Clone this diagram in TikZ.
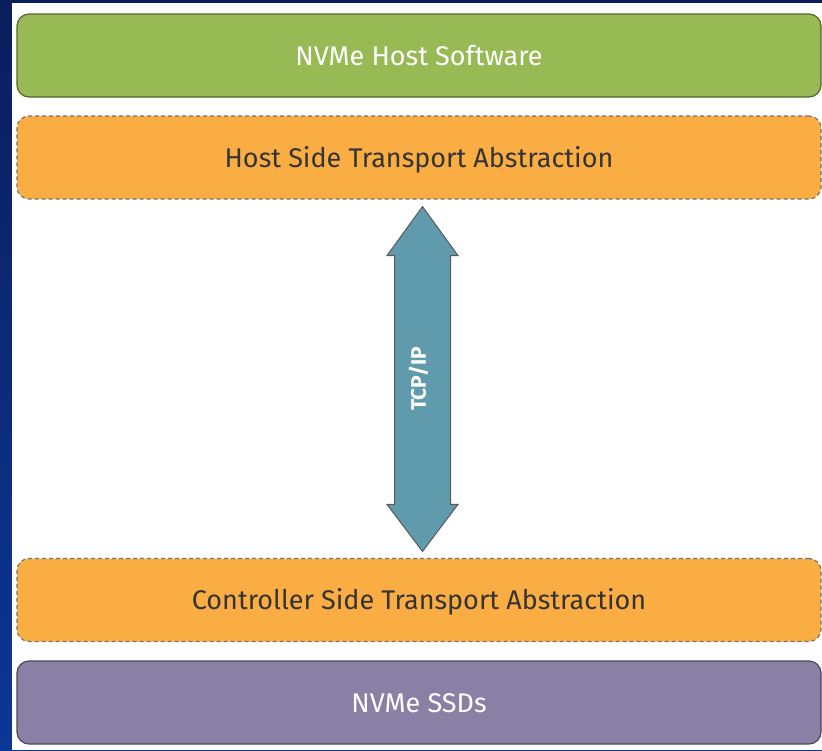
\documentclass[tikz,border=0pt]{standalone}
\usepackage{fontspec}
\setmainfont{Fira Sans}
\usetikzlibrary{calc}

\definecolor{slidenavy}{HTML}{0B1E5C}
\definecolor{slideblue}{HTML}{0B3796}
\definecolor{hostgreen}{HTML}{97BA55}
\definecolor{transorange}{HTML}{FAAD43}
\definecolor{ssdpurple}{HTML}{8A80A6}
\definecolor{tcpteal}{HTML}{5F9AAD}
\definecolor{labeldark}{HTML}{343434}

\tikzset{
  layer/.style={rounded corners=12pt, minimum width=804pt, minimum height=83pt,
    inner sep=0pt, text height=19pt, text depth=0pt, line width=1.2pt,
    font=\fontsize{27}{32}\selectfont},
  solidlayer/.style={layer, fill=#1, draw=#1!55!black, text=white},
  dashlayer/.style={layer, fill=transorange, draw=black!55,
    dash pattern=on 4pt off 3pt, text=labeldark},
  tcplink/.style={draw=black!65, fill=tcpteal, line width=1pt, line join=miter},
  tcplabel/.style={rotate=90, text=white, font=\bfseries\fontsize{21}{24}\selectfont}
}

\begin{document}
\begin{tikzpicture}[x=1pt, y=-1pt]
% Slide frame
    \fill[top color=slidenavy, bottom color=slideblue] (0,0) rectangle (822,750);
    \fill[white] (12,3) rectangle (822,750);
    \useasboundingbox (0,0) rectangle (822,750);
% Stack layers
    \node[solidlayer=hostgreen] (host) at (419,55.5) {NVMe Host Software};
    \node[dashlayer] (hostside) at (419,157.5) {Host Side Transport Abstraction};
    \node[dashlayer] (ctrlside) at (419,600) {Controller Side Transport Abstraction};
    \node[solidlayer=ssdpurple] (ssds) at (419,702.5) {NVMe SSDs};
% Fabric link between the two transport layers
    \coordinate (up) at ([xshift=3.5pt, yshift=-7pt]hostside.south);
    \coordinate (down) at ([xshift=3.5pt, yshift=6.5pt]ctrlside.north);
    \draw[tcplink] (up) -- ++(-35.5,49) -- ++(7.5,0) -- ($(down)+(-28,-47)$)
        -- ++(-7.5,0) -- (down) -- ++(35.5,-47) -- ++(-7.5,0)
        -- ($(up)+(28,49)$) -- ++(7.5,0) -- cycle;
    \node[tcplabel] (tcp) at ($(up)!0.5!(down)+(-4,0)$) {TCP/IP};
\end{tikzpicture}
\end{document}
